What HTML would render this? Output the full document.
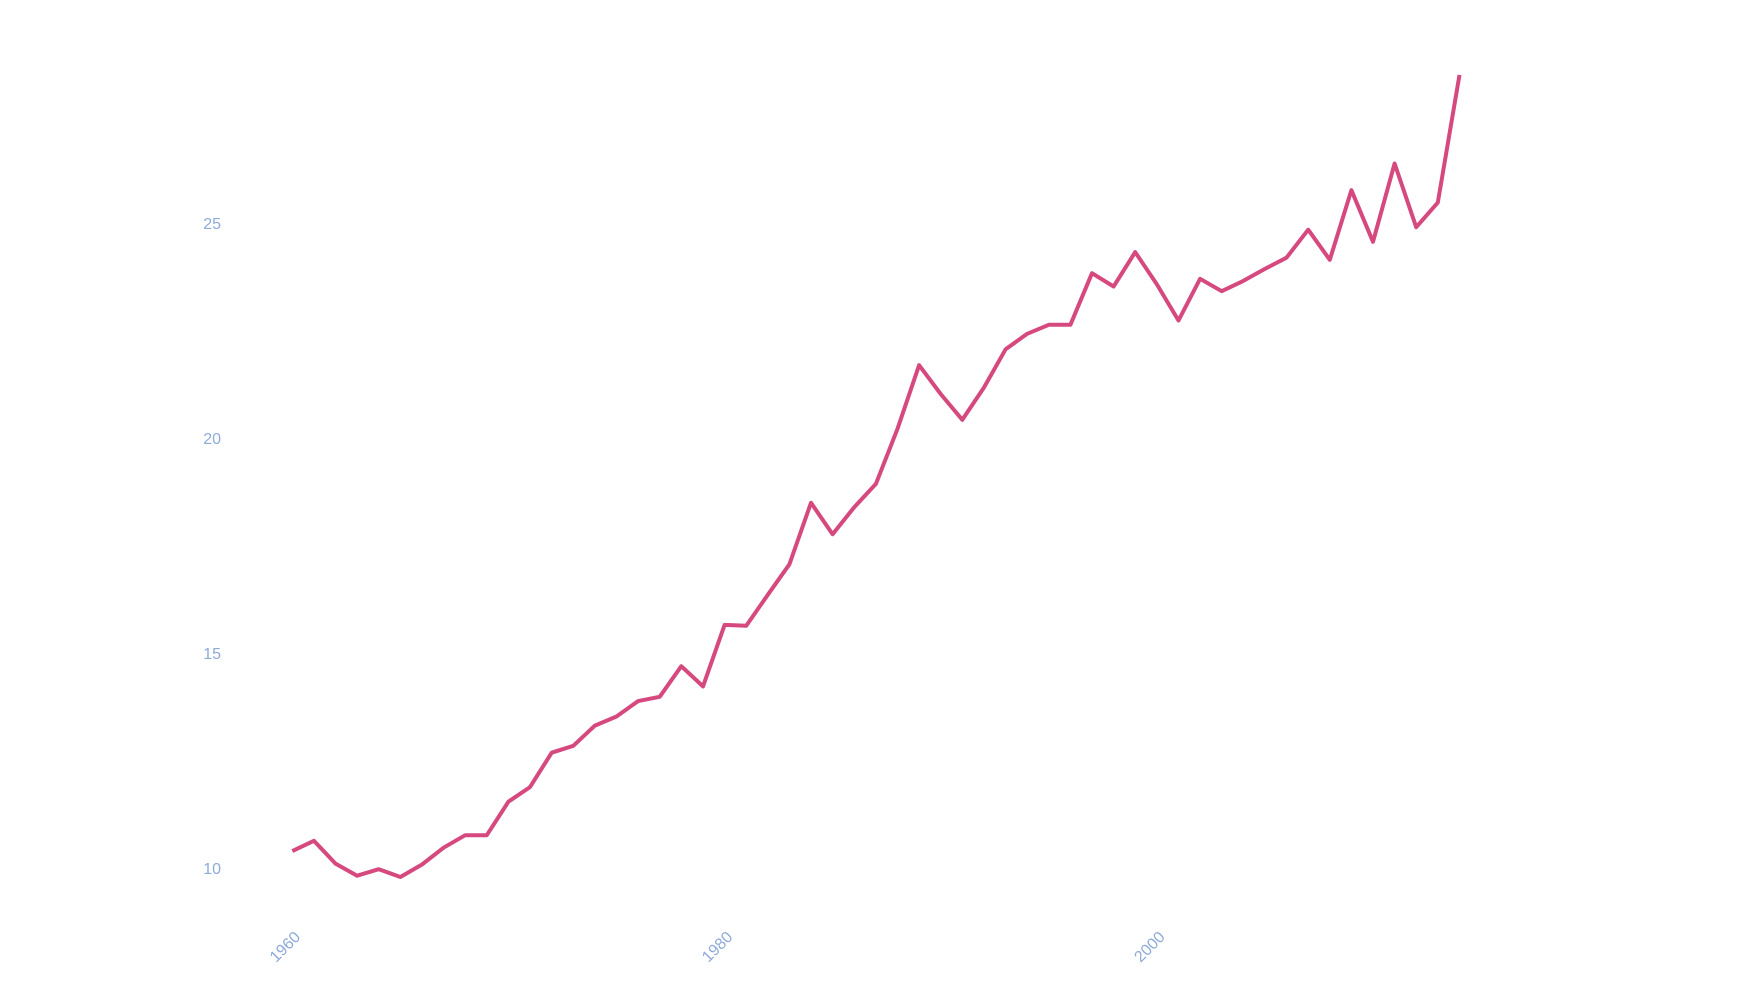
<!DOCTYPE html>
<html><head><meta charset="utf-8"><style>
html,body{margin:0;padding:0;background:#fff;}
svg{display:block;}
text{font-family:"Liberation Sans",sans-serif;fill:#8eaad8;font-size:16px;}
</style></head><body>
<svg id="chart" width="1756" height="1004">
<g id="yaxis"></g>
<g id="xaxis"></g>
<path id="line" fill="none" stroke="#d6497f" stroke-width="4" stroke-linejoin="round"/>
</svg>
<script>
const years = [1960,1961,1962,1963,1964,1965,1966,1967,1968,1969,1970,1971,1972,1973,1974,1975,1976,1977,1978,1979,1980,1981,1982,1983,1984,1985,1986,1987,1988,1989,1990,1991,1992,1993,1994,1995,1996,1997,1998,1999,2000,2001,2002,2003,2004,2005,2006,2007,2008,2009,2010,2011,2012,2013,2014];
const values = [10.39,10.63,10.10,9.82,9.97,9.79,10.08,10.47,10.76,10.76,11.54,11.88,12.68,12.84,13.31,13.52,13.88,13.98,14.69,14.22,15.65,15.63,16.35,17.06,18.49,17.76,18.39,18.93,20.21,21.69,21.02,20.42,21.17,22.06,22.42,22.63,22.63,23.83,23.52,24.32,23.57,22.73,23.70,23.41,23.65,23.93,24.19,24.84,24.14,25.76,24.56,26.38,24.90,25.47,28.44];
const yTicks = [10,15,20,25];
const xTicks = [1960,1980,2000];
const s = 1756/1568;
function xs(yr){ return (261 + (yr-1960)*19.3)*s; }
function ys(v){ return (775 - (v-10)*38.4)*s; }
const NS='http://www.w3.org/2000/svg';
const ya=document.getElementById('yaxis'), xa=document.getElementById('xaxis');
yTicks.forEach(t=>{
  const el=document.createElementNS(NS,'text');
  
  
  el.setAttribute('x',221); el.setAttribute('y',ys(t)+6);
  el.setAttribute('text-anchor','end'); el.textContent=t; ya.appendChild(el);
});
xTicks.forEach(t=>{
  const el=document.createElementNS(NS,'text');
  
  
  const x=xs(t)+9, y=938;
  el.setAttribute('x',x); el.setAttribute('y',y);
  el.setAttribute('text-anchor','end');
  el.setAttribute('transform','rotate(-45 '+x+' '+y+')');
  el.textContent=t; xa.appendChild(el);
});
document.getElementById('line').setAttribute('d', years.map((yr,i)=>(i?'L':'M')+xs(yr).toFixed(1)+','+ys(values[i]).toFixed(1)).join(''));
</script>
</body></html>
